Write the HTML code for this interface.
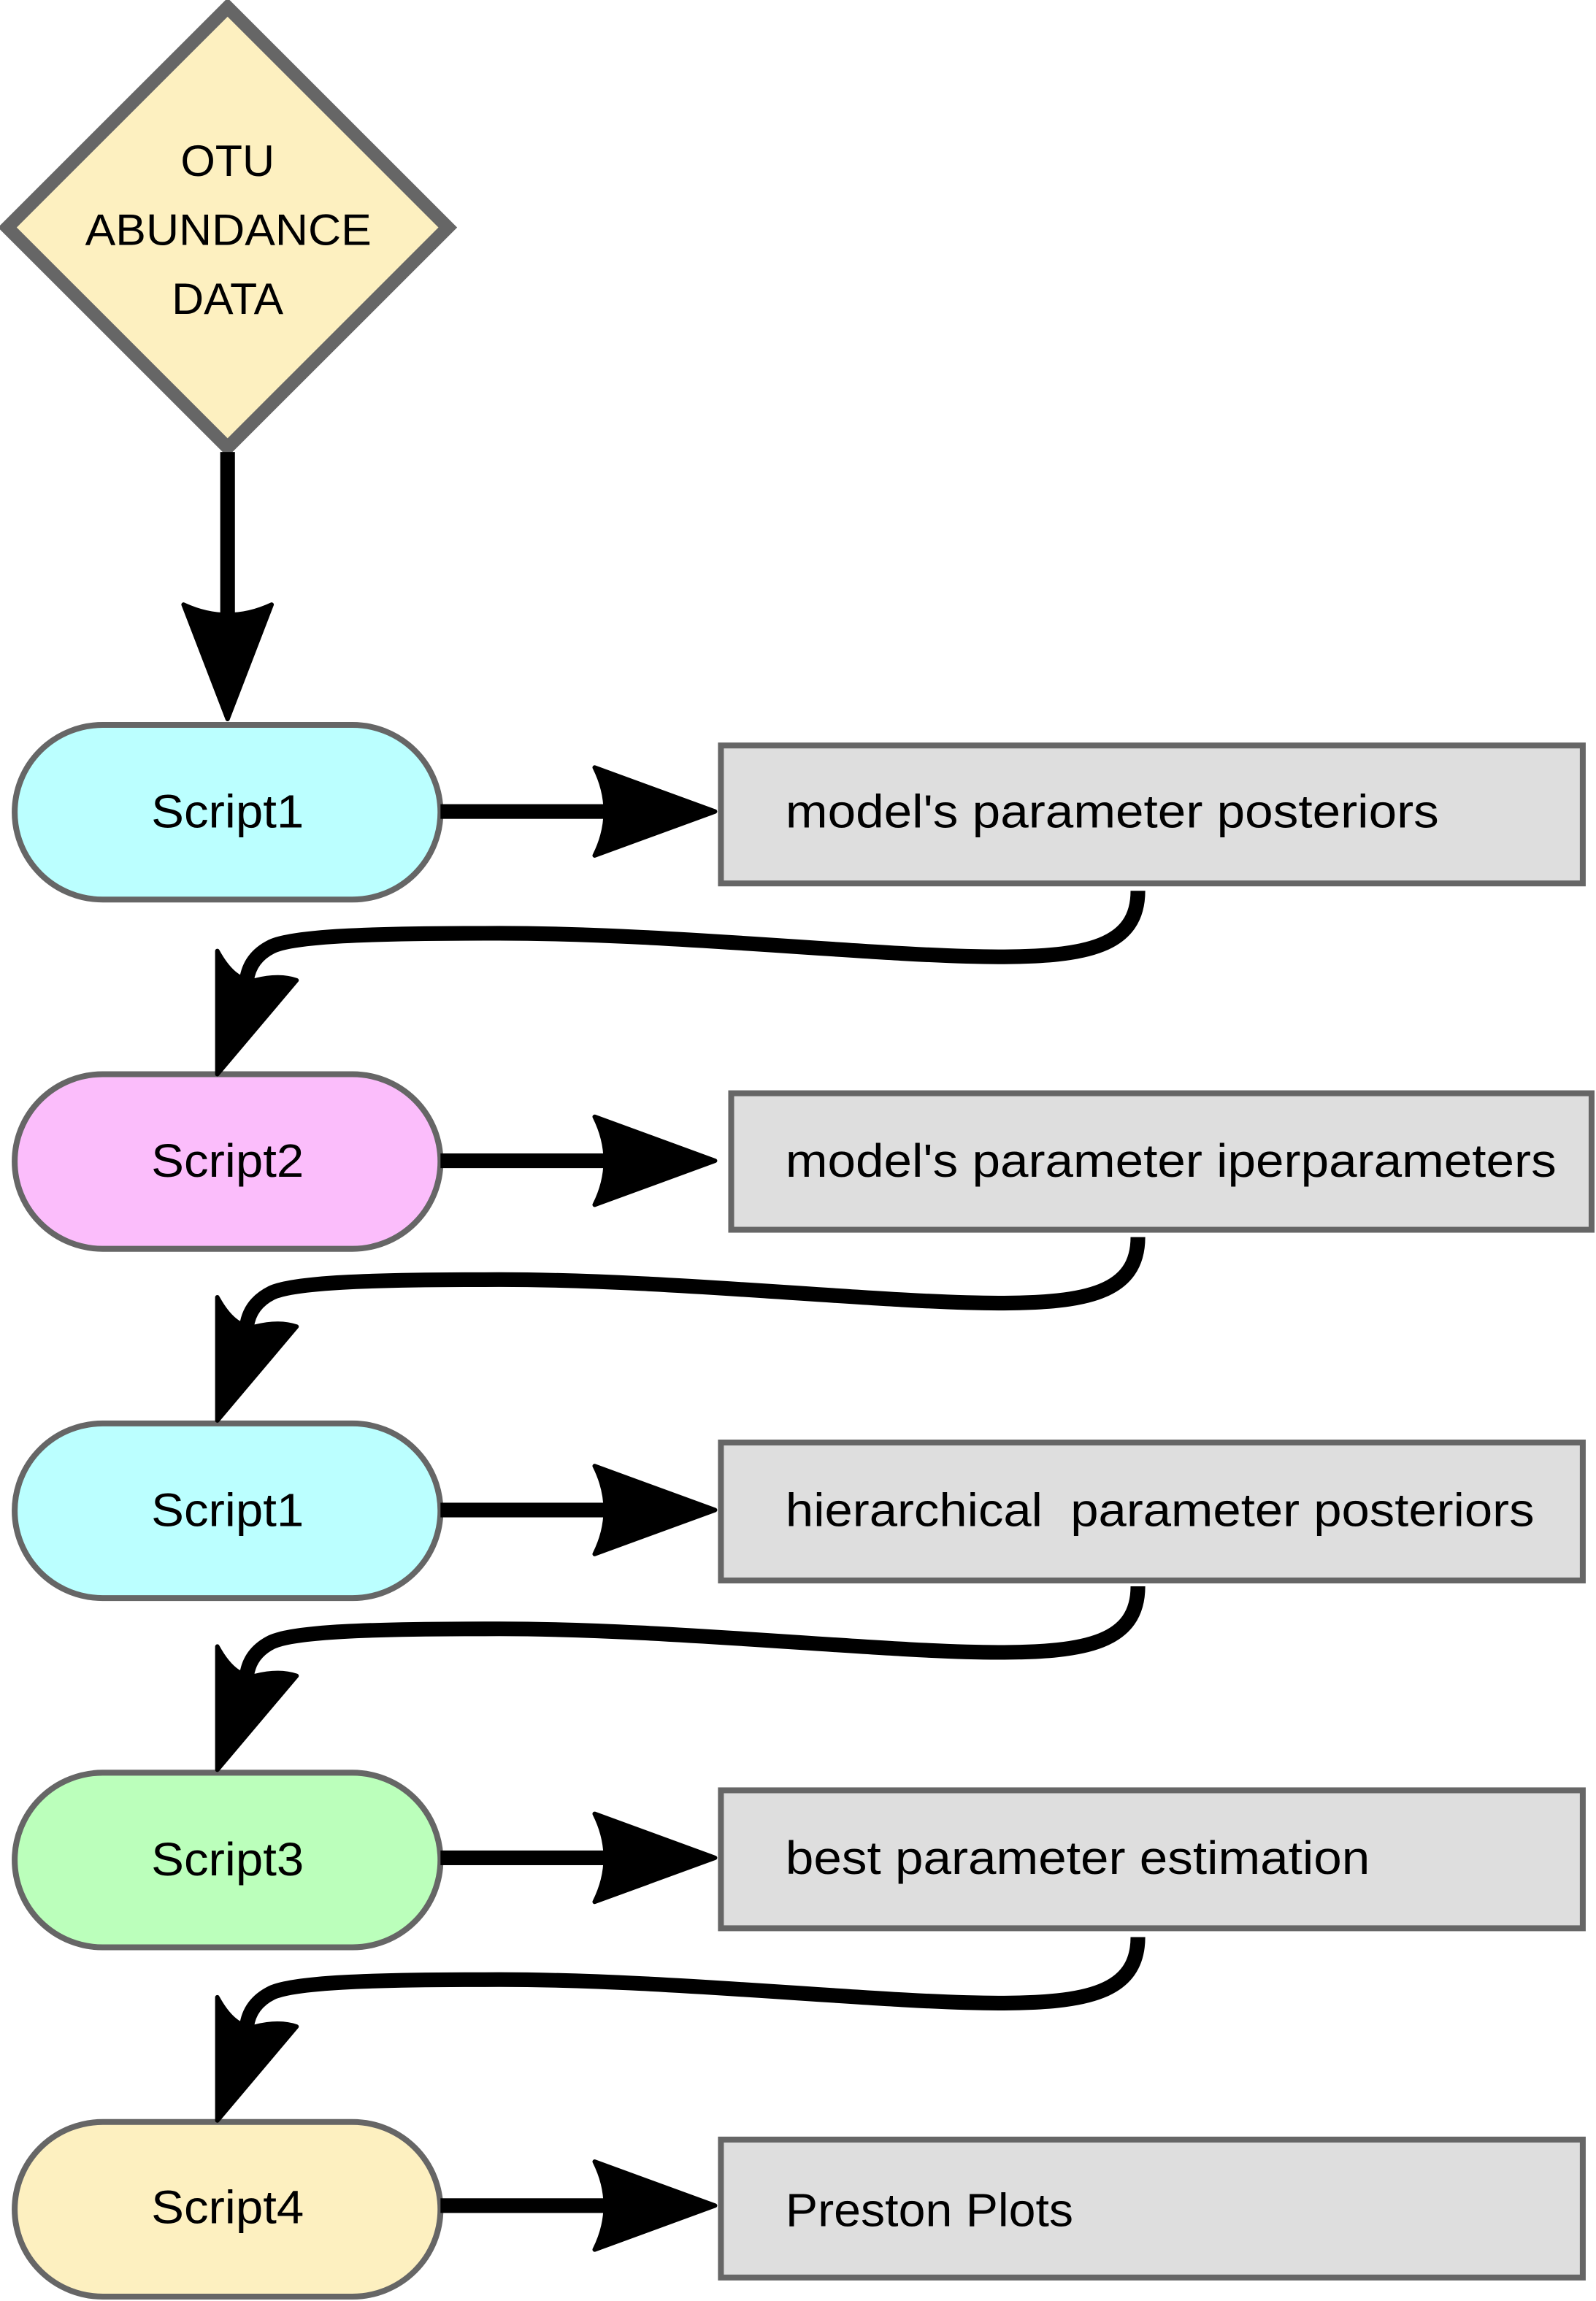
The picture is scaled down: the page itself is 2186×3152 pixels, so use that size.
<!DOCTYPE html>
<html><head><meta charset="utf-8"><style>
html,body{margin:0;padding:0;background:#fff;}
svg{display:block;}
text{font-family:"Liberation Sans",sans-serif;fill:#000;}
</style></head><body>
<svg width="2186" height="3152" viewBox="0 0 1087 1568" preserveAspectRatio="none" xmlns="http://www.w3.org/2000/svg">
<defs>
<g id="harrow">
<rect x="300" y="-5" width="115" height="10" fill="#000"/>
<path d="M405,-30 L487,0 L405,30 Q420,0 405,-30 Z" fill="#000" stroke="#000" stroke-width="3" stroke-linejoin="round"/>
</g>
<g id="curve">
<path d="M775,607 C775,645 740,652 680,652 C600,652 450,635 330,636 C250,636 200,638 185,645 C173,651 169,660 168,668" fill="none" stroke="#000" stroke-width="10"/>
<path d="M148,648 Q160,670 174,668 Q190,664 202,668 L148,732 Z" fill="#000" stroke="#000" stroke-width="3" stroke-linejoin="round"/>
</g>
</defs>
<polygon points="155,5 305,155 155,305 5,155" fill="#fdf0c0" stroke="#666" stroke-width="9"/>
<text x="123" y="120" font-size="30" textLength="64" lengthAdjust="spacingAndGlyphs">OTU</text>
<text x="58" y="167" font-size="30" textLength="195" lengthAdjust="spacingAndGlyphs">ABUNDANCE</text>
<text x="117" y="214" font-size="30" textLength="76" lengthAdjust="spacingAndGlyphs">DATA</text>
<rect x="150" y="308" width="10" height="115" fill="#000"/>
<path d="M125,412 Q155,426 185,412 L155,490 Z" fill="#000" stroke="#000" stroke-width="3" stroke-linejoin="round"/>

<rect x="10" y="494" width="290" height="119" rx="60" ry="60" fill="#bbffff" stroke="#666" stroke-width="4"/>
<text x="103" y="564" font-size="32" textLength="104" lengthAdjust="spacingAndGlyphs">Script1</text>
<rect x="10" y="732" width="290" height="119" rx="60" ry="60" fill="#fbbdfb" stroke="#666" stroke-width="4"/>
<text x="103" y="802" font-size="32" textLength="104" lengthAdjust="spacingAndGlyphs">Script2</text>
<rect x="10" y="970" width="290" height="119" rx="60" ry="60" fill="#bbffff" stroke="#666" stroke-width="4"/>
<text x="103" y="1040" font-size="32" textLength="104" lengthAdjust="spacingAndGlyphs">Script1</text>
<rect x="10" y="1208" width="290" height="119" rx="60" ry="60" fill="#bbffbb" stroke="#666" stroke-width="4"/>
<text x="103" y="1278" font-size="32" textLength="104" lengthAdjust="spacingAndGlyphs">Script3</text>
<rect x="10" y="1446" width="290" height="119" rx="60" ry="60" fill="#fdf0c0" stroke="#666" stroke-width="4"/>
<text x="103" y="1515" font-size="32" textLength="104" lengthAdjust="spacingAndGlyphs">Script4</text>

<use href="#harrow" x="0" y="553"/>
<use href="#harrow" x="0" y="791"/>
<use href="#harrow" x="0" y="1029"/>
<use href="#harrow" x="0" y="1266"/>
<use href="#harrow" x="0" y="1503"/>

<rect x="491" y="508" width="587" height="94" fill="#dedede" stroke="#666" stroke-width="4"/>
<text x="535" y="564" font-size="32" textLength="445" lengthAdjust="spacingAndGlyphs">model's parameter posteriors</text>
<rect x="498" y="745" width="586" height="93" fill="#dedede" stroke="#666" stroke-width="4"/>
<text x="535" y="802" font-size="32" textLength="525" lengthAdjust="spacingAndGlyphs">model's parameter iperparameters</text>
<rect x="491" y="983" width="587" height="94" fill="#dedede" stroke="#666" stroke-width="4"/>
<text x="535" y="1040" font-size="32" xml:space="preserve" textLength="510" lengthAdjust="spacingAndGlyphs">hierarchical  parameter posteriors</text>
<rect x="491" y="1220" width="587" height="94" fill="#dedede" stroke="#666" stroke-width="4"/>
<text x="535" y="1277" font-size="32" textLength="398" lengthAdjust="spacingAndGlyphs">best parameter estimation</text>
<rect x="491" y="1458" width="587" height="94" fill="#dedede" stroke="#666" stroke-width="4"/>
<text x="535" y="1517" font-size="32" textLength="196" lengthAdjust="spacingAndGlyphs">Preston Plots</text>

<use href="#curve" x="0" y="0"/>
<use href="#curve" x="0" y="236"/>
<use href="#curve" x="0" y="474"/>
<use href="#curve" x="0" y="713"/>
</svg>
</body></html>
